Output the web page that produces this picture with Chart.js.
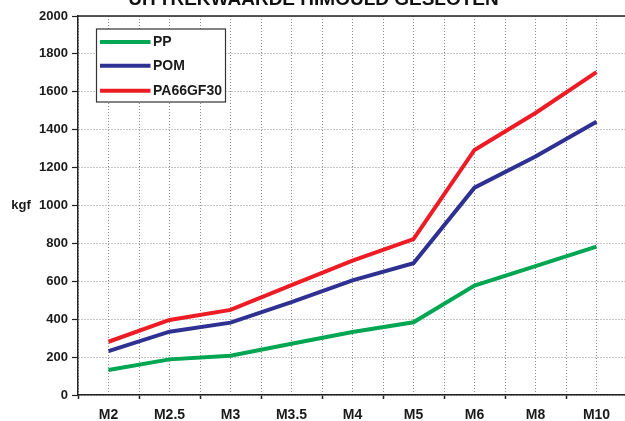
<!DOCTYPE html>
<html>
<head>
<meta charset="utf-8">
<script src="https://cdn.jsdelivr.net/npm/chart.js@4"></script>
<style>
  html, body { margin: 0; padding: 0; background: #fff; overflow: hidden; }
  #wrap { position: absolute; left: 0; top: -20px; width: 632px; height: 441px; }
</style>
</head>
<body>
<div id="wrap"><canvas id="chart"></canvas></div>
<script>
const labels = ['M2', 'M2.5', 'M3', 'M3.5', 'M4', 'M5', 'M6', 'M8', 'M10']
const pp = [132, 188, 207, 270, 332, 384, 577, 680, 783]
const pom = [232, 334, 382, 490, 605, 695, 1094, 1258, 1442]
const pa66 = [281, 396, 449, 580, 709, 823, 1293, 1488, 1704]
const yTicks = [0, 200, 400, 600, 800, 1000, 1200, 1400, 1600, 1800, 2000]

const FONT = '"Liberation Sans", Arial, Helvetica, sans-serif'
const GRID = '#8a8a8a'

// legend box drawn inside the plot, like the original
const boxLegend = {
  id: 'boxLegend',
  afterDatasetsDraw(chart) {
    const ctx = chart.ctx
    const x = 96.5, y = 49, w = 129, h = 73
    ctx.save()
    ctx.fillStyle = '#fff'
    ctx.fillRect(x, y, w, h)
    ctx.strokeStyle = '#333'
    ctx.lineWidth = 1.2
    ctx.strokeRect(x, y, w, h)
    const rows = [62, 85.7, 110.7]
    chart.data.datasets.forEach((ds, i) => {
      ctx.strokeStyle = ds.borderColor
      ctx.lineWidth = 4
      ctx.beginPath()
      ctx.moveTo(100, rows[i])
      ctx.lineTo(150.5, rows[i])
      ctx.stroke()
      ctx.fillStyle = '#1a1a1a'
      ctx.font = 'bold 14px ' + FONT
      ctx.textBaseline = 'middle'
      ctx.fillText(ds.label, 153, rows[i] + 0.5)
    })
    ctx.restore()
  },
  afterDraw(chart) {
    const ctx = chart.ctx
    const a = chart.chartArea
    ctx.save()
    // top frame line
    ctx.strokeStyle = '#222'
    ctx.lineWidth = 1.5
    ctx.beginPath()
    ctx.moveTo(a.left - 0.75, a.top)
    ctx.lineTo(a.right, a.top)
    ctx.stroke()
    // horizontal unit label
    ctx.fillStyle = '#1a1a1a'
    ctx.font = 'bold 13px ' + FONT
    ctx.textAlign = 'center'
    ctx.textBaseline = 'middle'
    ctx.fillText('kgf', 21, 225)
    ctx.restore()
  }
}

const lineSet = (label, data, color) => ({
  label: label,
  data: data,
  borderColor: color,
  backgroundColor: color,
  borderWidth: 4,
  pointRadius: 0,
  tension: 0,
  fill: false,
})

new Chart(document.getElementById('chart'), {
  type: 'line',
  data: {
    labels: labels,
    datasets: [
      lineSet('PP', pp, '#00a651'),
      lineSet('POM', pom, '#2e3192'),
      lineSet('PA66GF30', pa66, '#ed1c24'),
    ],
  },
  options: {
    responsive: true,
    maintainAspectRatio: false,
    animation: false,
    layout: { padding: { left: 0, right: 5, top: 0, bottom: 0 } },
    plugins: {
      legend: { display: false },
      tooltip: { enabled: false },
      title: {
        display: true,
        text: 'UITTREKWAARDE HIMOULD GESLOTEN',
        color: '#111',
        font: { family: FONT, size: 19, weight: 'bold' },
        padding: { top: 8, bottom: 5.2 },
      },
    },
    scales: {
      x: {
        type: 'category',
        offset: true,
        grid: {
          offset: true,
          color: GRID,
          lineWidth: 1,
          tickColor: '#222',
          tickLength: 4,
          tickWidth: 1.5,
        },
        border: { display: true, color: '#222', width: 1.5, dash: [1, 2] },
        ticks: {
          color: '#1a1a1a',
          font: { family: FONT, size: 14, weight: 'bold' },
          padding: 8,
          maxRotation: 0,
          autoSkip: false,
        },
        afterFit(scale) { scale.height = 26 },
      },
      x2: {
        type: 'category',
        position: 'top',
        offset: true,
        grid: { offset: false, color: GRID, lineWidth: 1, drawTicks: false },
        border: { display: false, dash: [1, 2] },
        ticks: { display: false },
        afterFit(scale) { scale.height = 0 },
      },
      y: {
        min: 0,
        max: 2000,
        afterBuildTicks(scale) { scale.ticks = yTicks.map(v => ({ value: v })) },
        grid: {
          color: GRID,
          lineWidth: 1,
          tickColor: '#222',
          tickLength: 6,
          tickWidth: 1.2,
        },
        border: { display: true, color: '#222', width: 1.5, dash: [1, 2] },
        ticks: {
          color: '#1a1a1a',
          font: { family: FONT, size: 13, weight: 'bold' },
          padding: 4,
          callback: value => String(value),
        },
        afterFit(scale) { scale.width = 78 },
      },
    },
  },
  plugins: [boxLegend],
})
</script>
</body>
</html>
